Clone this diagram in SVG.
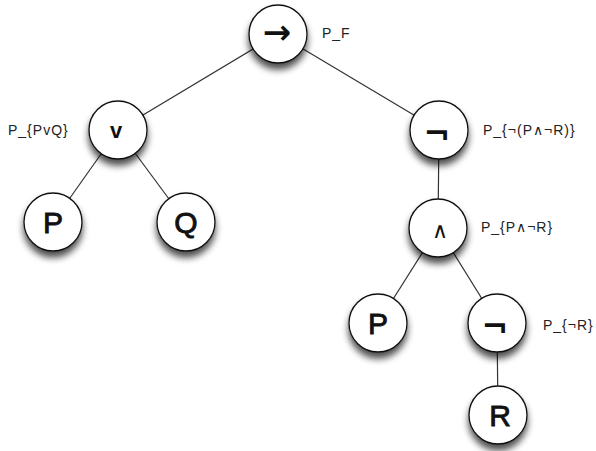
<svg xmlns="http://www.w3.org/2000/svg" width="596" height="451" viewBox="0 0 596 451">
<defs>
<filter id="sh" x="-50%" y="-50%" width="200%" height="200%">
<feGaussianBlur in="SourceAlpha" stdDeviation="3.5"/>
<feOffset dx="0" dy="6" result="b"/>
<feComponentTransfer><feFuncA type="linear" slope="0.7"/></feComponentTransfer>
<feMerge><feMergeNode/><feMergeNode in="SourceGraphic"/></feMerge>
</filter>
</defs>
<style>
.n{fill:#fff;stroke:#111;stroke-width:1.3;filter:url(#sh)}
.t{font-family:"Liberation Sans",Arial,sans-serif;font-size:30px;text-anchor:middle;fill:#111;stroke:#111;stroke-width:0.9}
.s{font-family:"DejaVu Sans","Liberation Sans",sans-serif;font-weight:bold;text-anchor:middle;fill:#111}
.u{font-family:"Liberation Sans",Arial,sans-serif;font-weight:bold;text-anchor:middle;fill:#111}
.l{font-family:"Liberation Sans",Arial,sans-serif;font-size:14px;letter-spacing:1px;fill:#222}
.e{stroke:#333;stroke-width:1.2;fill:none}
</style>
<rect width="596" height="451" fill="#fff"/>
<g id="connectors">
<line class="e" x1="278" y1="34" x2="118" y2="130"/>
<line class="e" x1="278" y1="34" x2="439" y2="130"/>
<line class="e" x1="118" y1="130" x2="53" y2="222"/>
<line class="e" x1="118" y1="130" x2="186" y2="222"/>
<line class="e" x1="439" y1="130" x2="438" y2="228"/>
<line class="e" x1="438" y1="228" x2="378" y2="323"/>
<line class="e" x1="438" y1="228" x2="497" y2="323"/>
<line class="e" x1="497" y1="323" x2="498" y2="415"/>
</g>
<g id="n-imp"><circle class="n" cx="278" cy="34" r="29"/><text class="s" x="277" y="44" font-size="34">→</text></g>
<g id="n-or"><circle class="n" cx="118" cy="130" r="29"/><text class="u" x="116" y="138" font-size="22">v</text></g>
<g id="n-not1"><circle class="n" cx="439" cy="130" r="29"/><text class="s" x="437" y="145" font-size="32">¬</text></g>
<g id="n-p1"><circle class="n" cx="53" cy="222" r="29"/><text class="t" x="53" y="233">P</text></g>
<g id="n-q"><circle class="n" cx="186" cy="222" r="29"/><text class="t" x="186" y="233">Q</text></g>
<g id="n-and"><circle class="n" cx="438" cy="228" r="29"/><text x="440" y="238" font-family="DejaVu Sans, sans-serif" font-size="22" text-anchor="middle" fill="#111">∧</text></g>
<g id="n-p2"><circle class="n" cx="378" cy="323" r="29"/><text class="t" x="378" y="334">P</text></g>
<g id="n-not2"><circle class="n" cx="497" cy="323" r="29"/><text class="s" x="495" y="338" font-size="32">¬</text></g>
<g id="n-r"><circle class="n" cx="498" cy="415" r="29"/><text class="t" x="500" y="426">R</text></g>
<g id="labels">
<text class="l" x="322" y="38">P_F</text>
<text class="l" x="8" y="135">P_{PvQ}</text>
<text class="l" x="483" y="135">P_{¬(P∧¬R)}</text>
<text class="l" x="481" y="232">P_{P∧¬R}</text>
<text class="l" x="543" y="330">P_{¬R}</text>
</g>
</svg>
